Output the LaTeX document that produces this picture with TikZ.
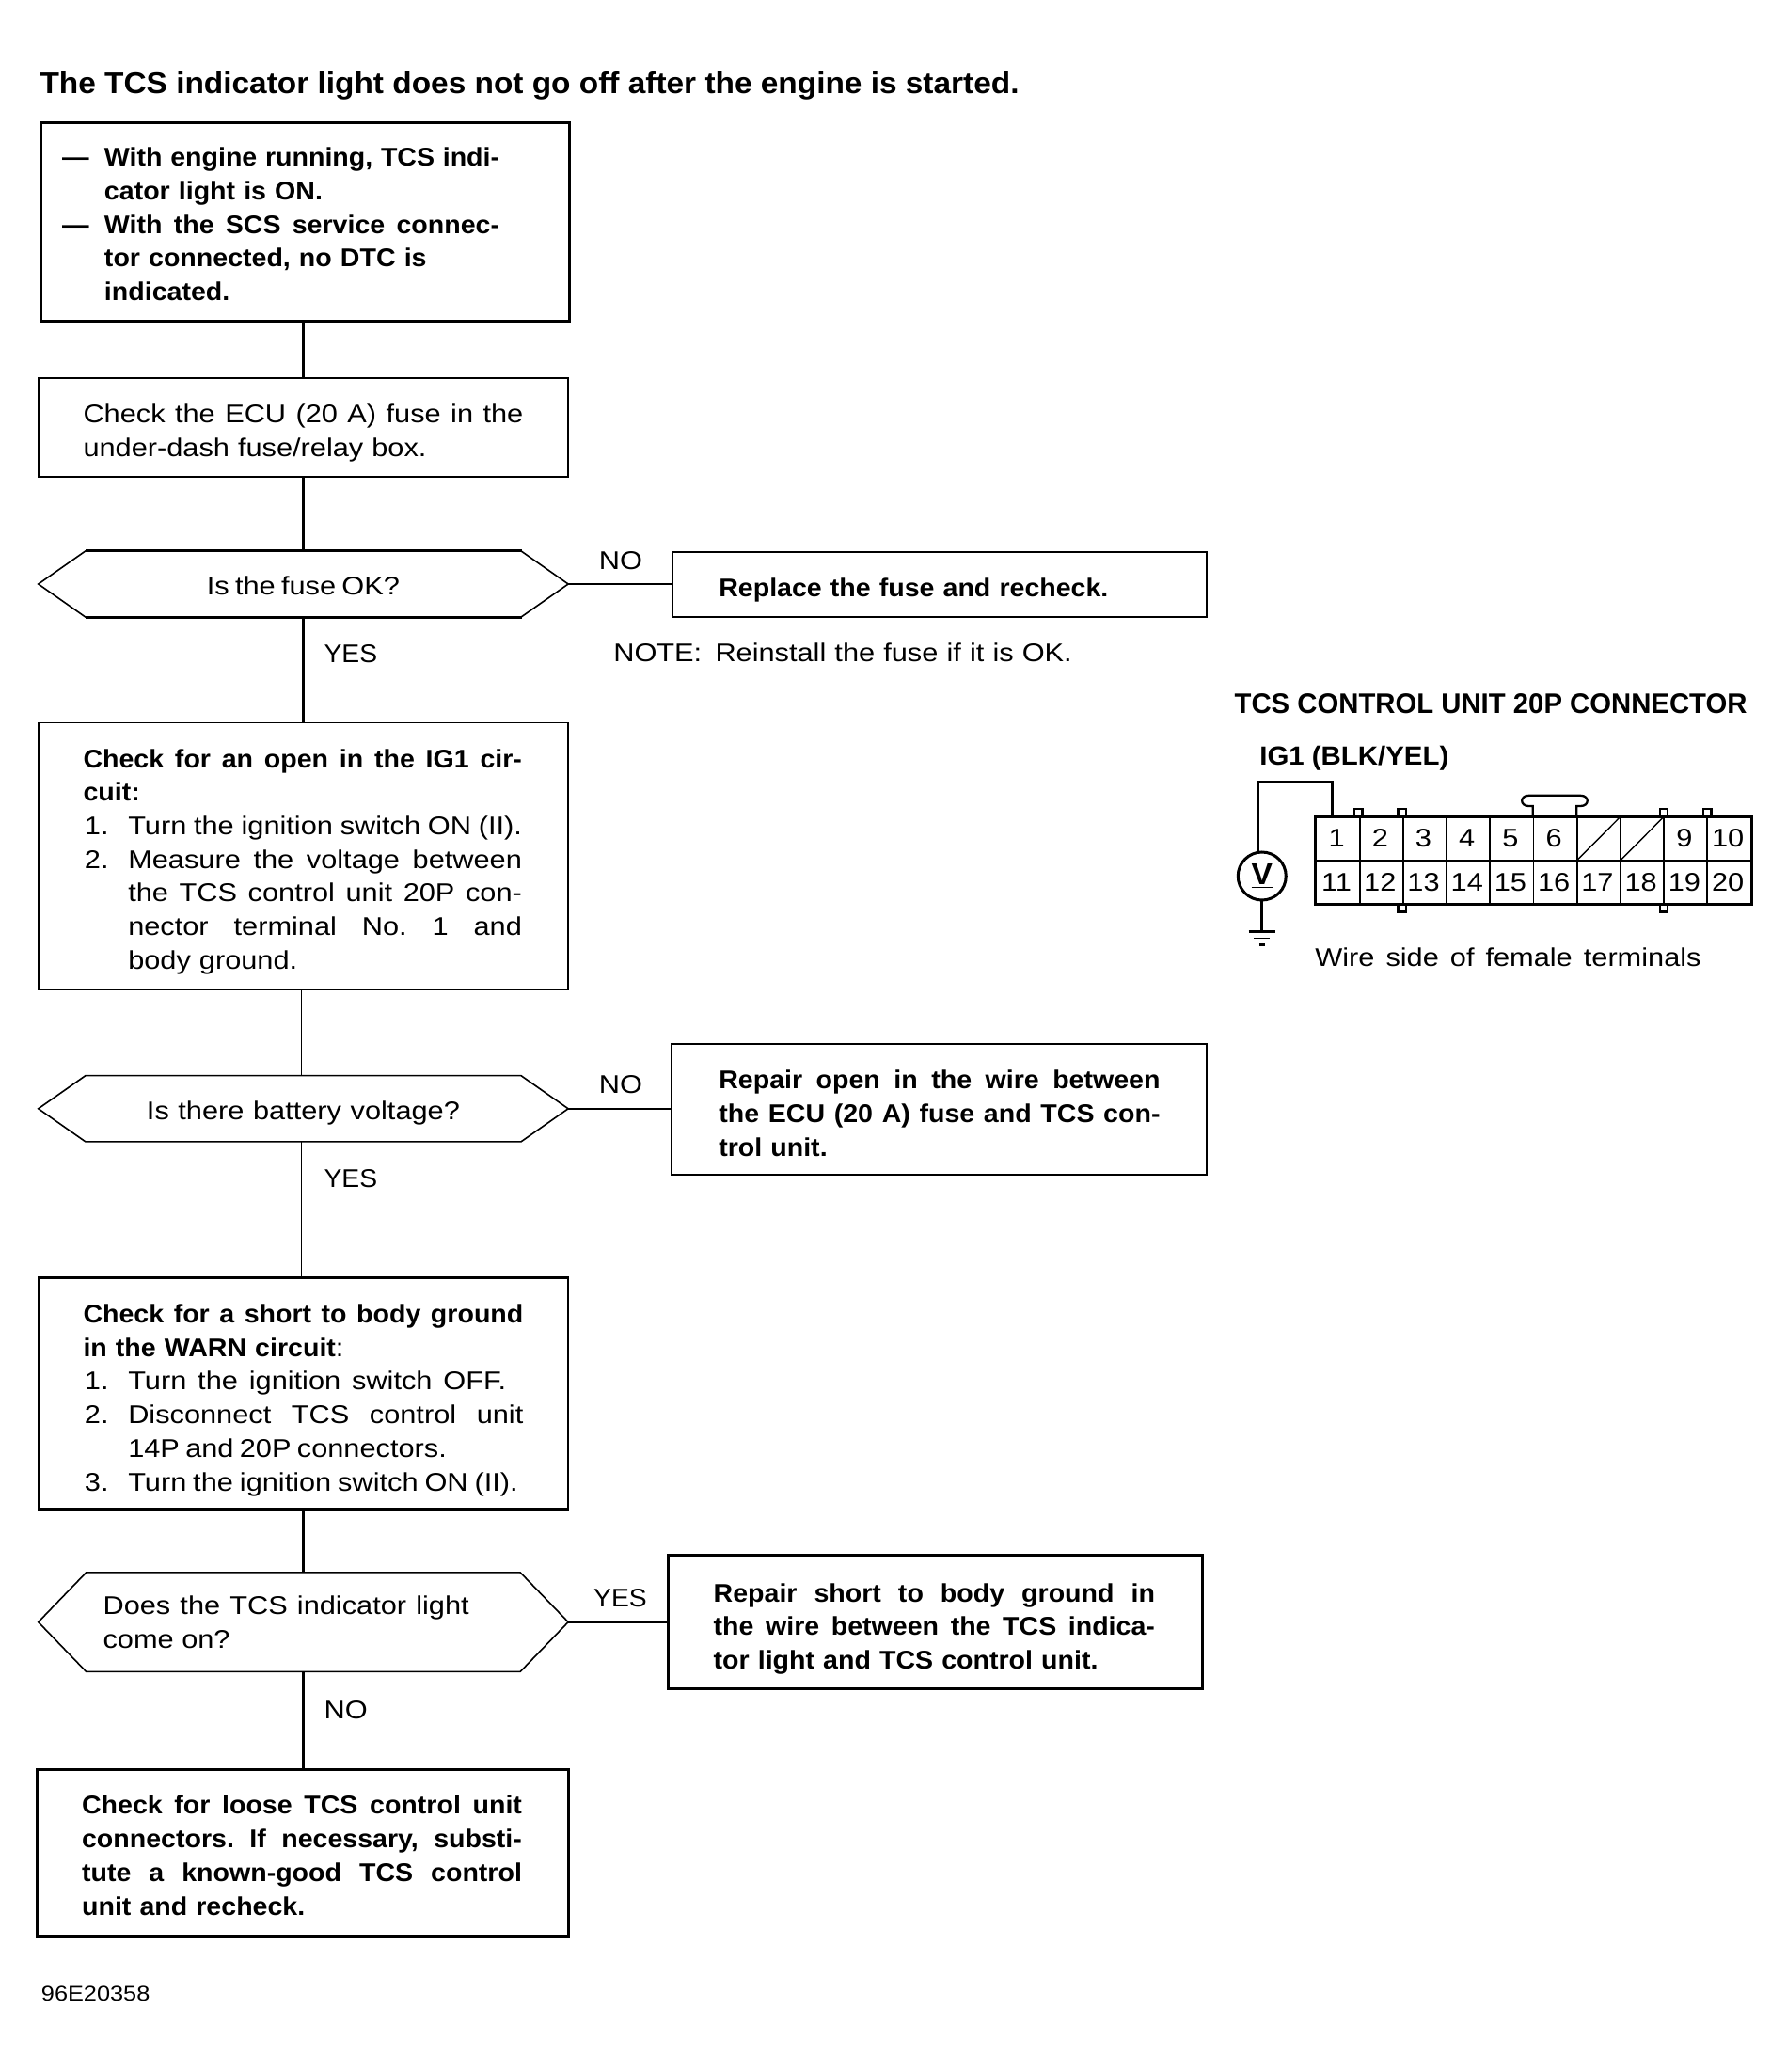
\documentclass[tikz,border=0pt]{standalone}
\usepackage{fontspec}
\usepackage{graphicx}
\setmainfont{Liberation Sans}[FakeStretch=1.13,BoldFeatures={FakeStretch=1.05}]
\usetikzlibrary{shapes.symbols}
\newdimen\ux \ux=0.7023pt
\newcommand{\J}[2]{\makebox[#1\ux][s]{\spaceskip=0pt\xspaceskip=0pt\frenchspacing #2}}
\newcommand{\bodyfont}{\fontsize{13.6}{17.85}\selectfont}
\newcommand{\dn}[2]{\raisebox{-#1\ux}[\height][\depth]{#2}}
\newcommand{\tp}[1]{\rule{0pt}{\dimexpr 10pt+#1\ux\relax}}
\newcommand{\yes}{\scalebox{0.92}[1]{YES}}
\tikzset{
  x=0.7023pt,y=-0.7023pt,
  ln/.style={line width=0.9pt},
  hv/.style={line width=1.5pt},
  md/.style={line width=1.15pt},
  lab/.style={font=\bodyfont,inner sep=0pt},
  hexa/.style={draw,shape=signal,signal to=east and west,inner sep=0pt,outer sep=0pt,font=\bodyfont,align=left,line width=0.8pt},
}
% name, x0,y0,x1,y1, inset, line style, text
\newcommand{\bxn}[8]{%
  \pgfmathsetlengthmacro{\tw}{(#4-#2-2*#6)*0.7023pt}%
  \pgfmathsetlengthmacro{\ww}{(#4-#2)*0.7023pt}%
  \pgfmathsetlengthmacro{\hh}{(#5-#3)*0.7023pt}%
  \pgfmathsetlengthmacro{\ins}{#6*0.7023pt}%
  \node[draw,#7,font=\bodyfont,align=left,text width=\tw,inner xsep=\ins,inner ysep=0pt,outer sep=0pt,
        minimum width=\ww,minimum height=\hh] (#1) at ({(#2+#4)/2},{(#3+#5)/2}) {#8};}
\newcommand{\hxn}[7]{%
  \pgfmathsetlengthmacro{\ww}{(#4-#2)*0.7023pt}%
  \pgfmathsetlengthmacro{\hh}{(#5-#3)*0.7023pt}%
  \node[hexa,minimum width=\ww,minimum height=\hh,signal pointer angle=#6] (#1) at ({(#2+#4)/2},{(#3+#5)/2}) {#7};}
\begin{document}
\begin{tikzpicture}
\useasboundingbox (0,0) rectangle (1352,1568);
\node[anchor=base west,inner sep=0pt,font=\fontsize{15.9}{18}\selectfont\bfseries] (title) at (30,71) {The TCS indicator light does not go off after the engine is started.};

\bxn{b1}{31}{93}{431}{243}{16}{hv}{\tp{3}\bfseries
 \makebox[32\ux][l]{---}\J{299}{With engine running, TCS indi-}\\
 \hspace*{32\ux}cator light is ON.\\
 \makebox[32\ux][l]{---}\J{299}{With the SCS service connec-}\\
 \hspace*{32\ux}tor connected, no DTC is\\
 \hspace*{32\ux}indicated.}
\bxn{b2}{29}{286}{430}{361}{34}{md}{\tp{8}\J{333}{Check the ECU (20 A) fuse in the}\\under-dash fuse/relay box.}
\hxn{h1}{29}{417}{430}{467}{70}{\dn{1}{\J{146}{Is the fuse OK?}}}
\bxn{r1}{509}{418}{913}{467}{35}{ln}{\tp{8}\bfseries Replace the fuse and recheck.}
\bxn{b3}{29}{547}{430}{749}{34}{ln}{\tp{8}\J{332}{\bfseries Check for an open in the IG1 cir-}\\
 {\bfseries cuit:}\\
 \makebox[34\ux][l]{\hspace{1\ux}1.}\J{298}{Turn the ignition switch ON (II).}\\
 \makebox[34\ux][l]{\hspace{1\ux}2.}\J{298}{Measure the voltage between}\\
 \hspace*{34\ux}\J{298}{the TCS control unit 20P con-}\\
 \hspace*{34\ux}\J{298}{nector terminal No. 1 and}\\
 \hspace*{34\ux}body ground.}
\hxn{h2}{29}{814}{430}{864}{70}{\dn{3}{\J{237}{Is there battery voltage?}}}
\bxn{r2}{508}{790}{913}{889}{36}{md}{\tp{6}\bfseries\J{334}{Repair open in the wire between}\\\J{334}{the ECU (20 A) fuse and TCS con-}\\trol unit.}
\bxn{b4}{29}{967}{430}{1142}{34}{md}{\tp{10}\J{333}{\bfseries Check for a short to body ground}\\
 {\bfseries in the WARN circuit}:\\
 \makebox[34\ux][l]{\hspace{1\ux}1.}\J{286}{Turn the ignition switch OFF.}\\
 \makebox[34\ux][l]{\hspace{1\ux}2.}\J{299}{Disconnect TCS control unit}\\
 \hspace*{34\ux}\J{241}{14P and 20P connectors.}\\
 \makebox[34\ux][l]{\hspace{1\ux}3.}\J{295}{Turn the ignition switch ON (II).}}
\pgfmathsetlengthmacro{\ttw}{303*0.7023pt}
\hxn{h3}{29}{1190}{430}{1265}{92}{\parbox{\ttw}{\bodyfont \J{277}{Does the TCS indicator light}\\come on?}}
\bxn{r3}{506}{1177}{910}{1278}{34}{hv}{\tp{10}\bfseries\J{334}{Repair short to body ground in}\\\J{334}{the wire between the TCS indica-}\\tor light and TCS control unit.}
\bxn{b5}{28}{1339}{430}{1465}{34}{hv}{\tp{4}\bfseries\J{333}{Check for loose TCS control unit}\\\J{333}{connectors. If necessary, substi-}\\\J{333}{tute a known-good TCS control}\\unit and recheck.}

% connectors
\draw[md] (b2.north |- b1.south) -- (b2.north);
\draw[hv] (b2.south) -- (h1.north);
\draw[hv] (h1.south) -- (b3.north);
\draw[ln] ([xshift=-1pt]b3.south) -- ([xshift=-1pt]h2.north);
\draw[ln] ([xshift=-1pt]h2.south) -- ([xshift=-1pt]b4.north);
\draw[md] (b4.south) -- (h3.north);
\draw[md] (h3.south) -- (h3.south |- b5.north);
\draw[md] (h1.east) -- (h1.east -| r1.west);
\draw[ln] (h2.east) -- (h2.east -| r2.west);
\draw[ln] (h3.east) -- (h3.east -| r3.west);

% heavier horizontals of the first decision
\draw[hv] (65,417) -- (395,417) (65,467) -- (395,467);

% labels
\node[lab,anchor=west] (n1) at (453,424) {NO};
\node[lab,anchor=west] (y1) at (245,495) {\yes};
\node[lab,anchor=base west] (note) at (464,501) {NOTE:};
\node[lab,anchor=base west] (notetxt) at (541,501) {\J{270}{Reinstall the fuse if it is OK.}};
\node[lab,anchor=west] (n2) at (453,821) {NO};
\node[lab,anchor=west] (y2) at (245,892) {\yes};
\node[lab,anchor=west] (y3) at (449,1209) {\yes};
\node[lab,anchor=west] (n3) at (245,1294) {NO};
\node[anchor=base west,inner sep=0pt,font=\fontsize{11.2}{13}\selectfont] (code) at (31,1514) {96E20358};

% connector diagram
\node[anchor=base west,inner sep=0pt,font=\fontsize{15}{18}\selectfont\bfseries] (ctitle) at (934,540) {\scalebox{0.93}[1]{TCS CONTROL UNIT 20P CONNECTOR}};
\node[anchor=base west,inner sep=0pt,font=\fontsize{14}{18}\selectfont\bfseries] (ig) at (953,579) {IG1 (BLK/YEL)};
\node[anchor=base west,inner sep=0pt,font=\bodyfont] (wire) at (995,731) {\J{292}{Wire side of female terminals}};

% tabs (behind the housing)
\foreach \tx in {1028,1061,1259,1292}
  \draw[md,fill=white] (\tx-3,618) -- (\tx-3,612) -- (\tx+3,612) -- (\tx+3,618);
\foreach \tx in {1061,1259}
  \draw[md,fill=white] (\tx-3,684) -- (\tx-3,690) -- (\tx+3,690) -- (\tx+3,684);
\draw[md] (1160,618) -- (1160,610) -- (1157,610) .. controls (1150,610) and (1150,602) .. (1157,602) -- (1196,602) .. controls (1203,602) and (1203,610) .. (1196,610) -- (1193,610) -- (1193,618);

\node[draw,hv,minimum width=231.6pt,minimum height=46.35pt,inner sep=0pt,outer sep=0pt] (conn) at (1160.5,651) {};
\draw[ln] (conn.west) -- (conn.east);
\foreach \i in {1,...,9}
  \draw[ln] ({996+\i*32.9},618) -- ({996+\i*32.9},684);
\draw[line width=0.7pt] ({996+6*32.9},651) -- ({996+7*32.9},618);
\draw[line width=0.7pt] ({996+7*32.9},651) -- ({996+8*32.9},618);
\foreach \n/\c in {1/0,2/1,3/2,4/3,5/4,6/5,9/8,10/9}
  \node[font=\bodyfont,inner sep=0pt] (t\n) at ({995+(\c+.5)*32.9},634.5) {\n};
\foreach \n/\c in {11/0,12/1,13/2,14/3,15/4,16/5,17/6,18/7,19/8,20/9}
  \node[font=\bodyfont,inner sep=0pt] (t\n) at ({995+(\c+.5)*32.9},667.5) {\n};

\node[draw,circle,hv,minimum size=25.5pt,inner sep=0pt,outer sep=0pt,font=\fontsize{16}{17}\selectfont\bfseries] (vm) at (955,663) {\raisebox{1pt}{\underline{V}}};
\coordinate (gnd) at (955,705);
\coordinate (wc) at (951,592);
\coordinate (pin) at (1008,618);
\draw[hv] (vm.100) -- (vm.100 |- wc) -| (pin);
\draw[hv] (vm.south) -- (gnd);
\draw[md] (945,705) -- (965,705);
\draw[ln] (949,710) -- (961,710);
\draw[md] (953,715) -- (957,715);
\end{tikzpicture}
\end{document}
